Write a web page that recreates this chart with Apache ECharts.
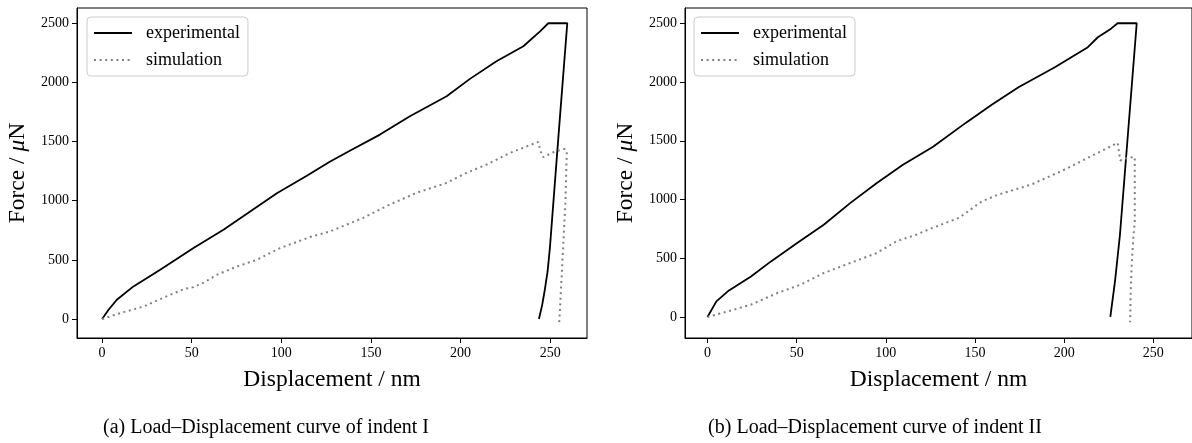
<!DOCTYPE html>
<html>
<head>
<meta charset="utf-8">
<script src="https://cdn.jsdelivr.net/npm/echarts@6/dist/echarts.min.js"></script>
<style>html,body{margin:0;padding:0;background:#fff}#c{width:1192px;height:443px}</style>
</head>
<body>
<div id="c"></div>
<script>
// ---- data ----
const xTicks = [0, 50, 100, 150, 200, 250];
const yTicks = [0, 500, 1000, 1500, 2000, 2500];

// Indent I
const expA_x = [0, 3.6, 8.2, 17.5, 32.4, 51, 67.7, 82.6, 97.5, 114.2, 127, 138.2, 155, 171.7, 192.2, 205.2, 220, 235, 244.3, 248.9, 259.5, 254.6, 249.8, 248.5, 247, 245.5, 243.7];
const expA_y = [0, 79, 163, 276, 416, 600, 754, 909, 1064, 1212, 1330, 1422, 1559, 1714, 1883, 2030, 2179, 2306, 2432, 2500, 2500, 1550, 602, 400, 250, 120, 0];
const simA_x = [0, 10, 23.1, 38, 46, 51, 57, 64, 75.2, 86.3, 99.3, 116, 127, 131, 145.6, 160.5, 175.4, 192.2, 203.3, 214.5, 227.5, 243.3, 244.6, 246, 252.6, 258.2, 259.2, 258.5, 257.5, 256.5, 255.8, 255.3, 255];
const simA_y = [0, 50, 106, 205, 255, 270, 310, 374, 444, 501, 600, 693, 740, 765, 855, 968, 1067, 1151, 1236, 1306, 1404, 1497, 1419, 1368, 1416, 1438, 1405, 1000, 700, 400, 200, 50, -30];

// Indent II
const expB_x = [0, 5, 11.4, 24.4, 35.6, 50.3, 65.2, 80, 94.8, 109.6, 126.3, 144.8, 159.6, 174.4, 194.8, 213.3, 218.9, 226.3, 230, 240.7, 236, 231.3, 228.5, 225.9];
const expB_y = [0, 133, 218, 345, 473, 629, 785, 969, 1139, 1295, 1446, 1652, 1808, 1956, 2126, 2296, 2381, 2454, 2500, 2500, 1600, 700, 300, 0];
const simB_x = [0, 11.4, 24.4, 39.2, 52.2, 65.2, 80, 94.8, 105.9, 117, 126.3, 141.1, 154, 163.3, 181.8, 200.3, 215.2, 230, 231.5, 235.6, 239.6, 239.6, 238.9, 237.9, 237.3, 237];
const simB_y = [0, 48, 105, 204, 275, 374, 459, 544, 643, 700, 759, 844, 986, 1043, 1128, 1255, 1369, 1482, 1332, 1355, 1361, 800, 700, 450, 200, -45];

const seriesNames = ['experimental', 'simulation'];
const xName = 'Displacement / nm';
const yName = 'Force / {i|μ}N';
const captions = ['(a) Load–Displacement curve of indent I', '(b) Load–Displacement curve of indent II'];

// ---- build ----
const zip = (xs, ys) => xs.map((x, i) => [x, ys[i]]);
const FONT = 'Liberation Serif';

const chart = echarts.init(document.getElementById('c'), null, {renderer: 'canvas'});

const grids = [
  {left: 77, top: 8, width: 510, height: 330},
  {left: 685, top: 8, width: 512, height: 330}
];
const xRanges = [[-14, 270.5], [-12.6, 271.7]];
const yRanges = [[-160, 2629], [-179, 2630]];

function xAxisFor(i) {
  return {
    type: 'value', gridIndex: i, min: xRanges[i][0], max: xRanges[i][1],
    name: xName, nameLocation: 'middle', nameGap: 30,
    nameTextStyle: {fontFamily: FONT, fontSize: 23.5, color: '#000'},
    axisLine: {show: true, onZero: false, lineStyle: {color: '#000', width: 1}},
    axisTick: {show: true, inside: false, length: 5, customValues: xTicks, lineStyle: {color: '#000', width: 1}},
    axisLabel: {customValues: xTicks, formatter: v => String(v), fontFamily: FONT, fontSize: 14, color: '#000', margin: 8},
    splitLine: {show: false}
  };
}
function yAxisFor(i) {
  return {
    type: 'value', gridIndex: i, min: yRanges[i][0], max: yRanges[i][1],
    name: yName, nameLocation: 'middle', nameGap: 47,
    nameTextStyle: {fontFamily: FONT, fontSize: 23.5, color: '#000',
      rich: {i: {fontFamily: FONT, fontSize: 23.5, fontStyle: 'italic', color: '#000'}}},
    axisLine: {show: true, onZero: false, lineStyle: {color: '#000', width: 1}},
    axisTick: {show: true, inside: false, length: 5, customValues: yTicks, lineStyle: {color: '#000', width: 1}},
    axisLabel: {customValues: yTicks, formatter: v => String(v), fontFamily: FONT, fontSize: 14, color: '#000', margin: 8},
    splitLine: {show: false}
  };
}
function legendFor(i, left) {
  return {
    left: left, top: 17, orient: 'vertical',
    data: seriesNames,
    itemWidth: 38, itemHeight: 14, itemGap: 7,
    padding: [6, 8, 6, 6],
    backgroundColor: 'rgba(255,255,255,0.8)',
    borderColor: '#cccccc', borderWidth: 1, borderRadius: 4,
    itemStyle: {opacity: 0},
    textStyle: {fontFamily: FONT, fontSize: 18, color: '#000', lineHeight: 20, padding: [0, 0, 0, 9]},
    selectedMode: false
  };
}
function lineSeries(name, data, i, sim) {
  return {
    name: name, type: 'line', xAxisIndex: i, yAxisIndex: i, data: data,
    showSymbol: false, symbol: 'none', smooth: false, animation: false,
    color: sim ? '#808080' : '#000000',
    lineStyle: sim ? {color: '#808080', width: 2, type: [2, 3.6], cap: 'butt'} : {color: '#000000', width: 1.8}
  };
}

chart.setOption({
  animation: false,
  backgroundColor: '#ffffff',
  grid: grids.map(g => Object.assign({show: true, borderColor: '#000', borderWidth: 1, backgroundColor: 'transparent'}, g)),
  xAxis: [xAxisFor(0), xAxisFor(1)],
  yAxis: [yAxisFor(0), yAxisFor(1)],
  legend: [legendFor(0, 87), legendFor(1, 694)],
  series: [
    lineSeries(seriesNames[0], zip(expA_x, expA_y), 0, false),
    lineSeries(seriesNames[1], zip(simA_x, simA_y), 0, true),
    lineSeries(seriesNames[0], zip(expB_x, expB_y), 1, false),
    lineSeries(seriesNames[1], zip(simB_x, simB_y), 1, true)
  ],
  graphic: [
    {type: 'text', x: 266, y: 428, style: {text: captions[0], fontFamily: FONT, fontSize: 20, fill: '#000', textAlign: 'center', textVerticalAlign: 'middle'}},
    {type: 'text', x: 875, y: 428, style: {text: captions[1], fontFamily: FONT, fontSize: 20, fill: '#000', textAlign: 'center', textVerticalAlign: 'middle'}}
  ]
});
</script>
</body>
</html>
